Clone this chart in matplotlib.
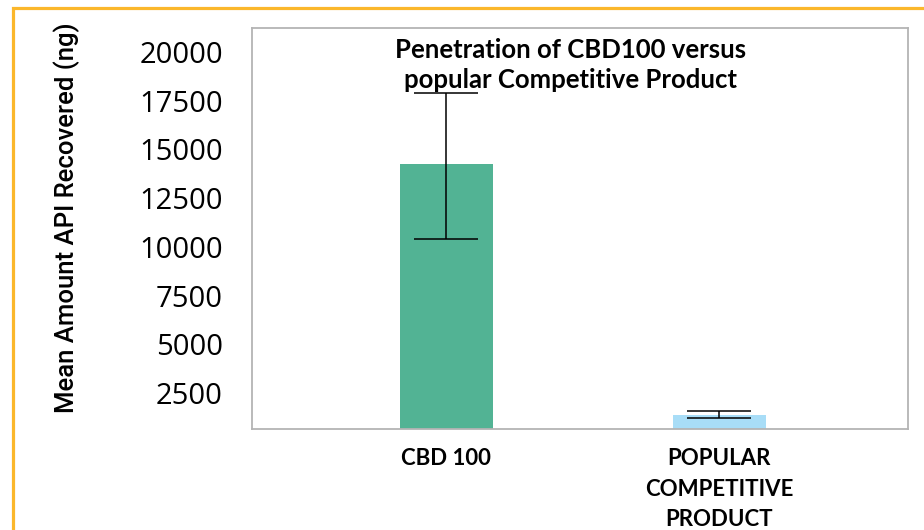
import matplotlib.pyplot as plt
from matplotlib.patches import Rectangle

# data
categories = ["CBD 100", "POPULAR\nCOMPETITIVE\nPRODUCT"]
means = [14230, 1370]
err_low = [3820, 180]
err_high = [3640, 180]
bar_colors = ["#52B394", "#A8DDF7"]
yticks = [2500, 5000, 7500, 10000, 12500, 15000, 17500, 20000]

fig = plt.figure(figsize=(9.24, 5.30), dpi=100)
ax = fig.add_axes([252 / 924, 1 - 429 / 530, 656 / 924, 401 / 530])

x = [0, 1]
ax.bar(x, means, width=0.34, color=bar_colors, zorder=2)
ax.errorbar(x, means, yerr=[err_low, err_high], fmt="none", ecolor="black",
            elinewidth=1.1, capsize=23, capthick=1.1, zorder=3)

ax.set_xlim(-0.71, 1.69)
ax.set_ylim(650, 21230)
ax.set_yticks(yticks)
ax.set_yticklabels([str(v) for v in yticks], fontsize=21, family="Open Sans")
ax.set_xticks(x)
ax.set_xticklabels(categories, fontsize=16, fontweight="bold", family="Lato",
                   linespacing=1.55, va="top")
ax.tick_params(axis="y", length=0, pad=21)
ax.tick_params(axis="x", length=0, pad=14)

for s in ax.spines.values():
    s.set_color("#B4B4B4")
    s.set_linewidth(1.3)

ax.text(0.485, 0.975, "Penetration of CBD100 versus\npopular Competitive Product",
        transform=ax.transAxes, ha="center", va="top", fontsize=18.5,
        fontweight="bold", family="Lato", linespacing=1.3, zorder=4)

fig.text(67 / 924, 1 - 218 / 530, "Mean Amount API Recovered (ng)",
         rotation=90, ha="center", va="center", fontsize=18.5,
         family="Roboto", fontweight="medium")

# orange frame around the figure
fig.patches.append(Rectangle((12.5 / 924, -0.1), 1.2, 1 - 7.5 / 530 + 0.1,
                             transform=fig.transFigure, fill=False,
                             edgecolor="#FBB72B", linewidth=2.3))

fig.savefig("out.png", dpi=100)
